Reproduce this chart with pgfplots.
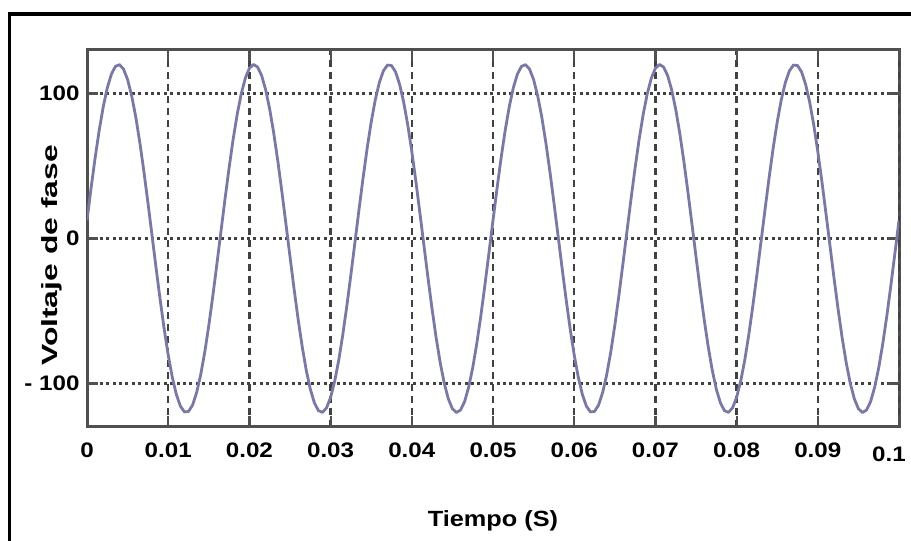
\documentclass[border=0pt]{standalone}
\usepackage{fontspec}
\setmainfont{Liberation Sans}[FakeStretch=1.15]
\usepackage{pgfplots}
\usepackage{pgfplotstable}
\pgfplotsset{compat=1.18}

\definecolor{wave}{RGB}{122,120,164}
\definecolor{boxc}{RGB}{80,80,80}
\definecolor{gridc}{RGB}{65,65,65}

% phase voltage, every 0.5 ms
\pgfplotstableread{
t v
0 12.5
0.0005 34.7
0.001 55.6
0.0015 74.5
0.002 90.8
0.0025 103.9
0.003 113.3
0.0035 118.7
0.004 119.9
0.0045 116.8
0.005 109.6
0.0055 98.5
0.006 84.0
0.0065 66.4
0.007 46.5
0.0075 24.9
0.008 2.5
0.0085 -20.0
0.009 -41.8
0.0095 -62.2
0.01 -80.3
0.0105 -95.6
0.011 -107.5
0.0115 -115.6
0.012 -119.6
0.0125 -119.3
0.013 -114.9
0.0135 -106.3
0.014 -94.0
0.0145 -78.4
0.015 -60.0
0.0155 -39.5
0.016 -17.5
0.0165 5.0
0.017 27.4
0.0175 48.8
0.018 68.5
0.0185 85.7
0.019 99.9
0.0195 110.6
0.02 117.4
0.0205 120.0
0.021 118.3
0.0215 112.5
0.022 102.6
0.0225 89.2
0.023 72.6
0.0235 53.4
0.024 32.3
0.0245 10.0
0.025 -12.5
0.0255 -34.7
0.026 -55.6
0.0265 -74.5
0.027 -90.8
0.0275 -103.9
0.028 -113.3
0.0285 -118.7
0.029 -119.9
0.0295 -116.8
0.03 -109.6
0.0305 -98.5
0.031 -84.0
0.0315 -66.4
0.032 -46.5
0.0325 -24.9
0.033 -2.5
0.0335 20.0
0.034 41.8
0.0345 62.2
0.035 80.3
0.0355 95.6
0.036 107.5
0.0365 115.6
0.037 119.6
0.0375 119.3
0.038 114.9
0.0385 106.3
0.039 94.0
0.0395 78.4
0.04 60.0
0.0405 39.5
0.041 17.5
0.0415 -5.0
0.042 -27.4
0.0425 -48.8
0.043 -68.5
0.0435 -85.7
0.044 -99.9
0.0445 -110.6
0.045 -117.4
0.0455 -120.0
0.046 -118.3
0.0465 -112.5
0.047 -102.6
0.0475 -89.2
0.048 -72.6
0.0485 -53.4
0.049 -32.3
0.0495 -10.0
0.05 12.5
0.0505 34.7
0.051 55.6
0.0515 74.5
0.052 90.8
0.0525 103.9
0.053 113.3
0.0535 118.7
0.054 119.9
0.0545 116.8
0.055 109.6
0.0555 98.5
0.056 84.0
0.0565 66.4
0.057 46.5
0.0575 24.9
0.058 2.5
0.0585 -20.0
0.059 -41.8
0.0595 -62.2
0.06 -80.3
0.0605 -95.6
0.061 -107.5
0.0615 -115.6
0.062 -119.6
0.0625 -119.3
0.063 -114.9
0.0635 -106.3
0.064 -94.0
0.0645 -78.4
0.065 -60.0
0.0655 -39.5
0.066 -17.5
0.0665 5.0
0.067 27.4
0.0675 48.8
0.068 68.5
0.0685 85.7
0.069 99.9
0.0695 110.6
0.07 117.4
0.0705 120.0
0.071 118.3
0.0715 112.5
0.072 102.6
0.0725 89.2
0.073 72.6
0.0735 53.4
0.074 32.3
0.0745 10.0
0.075 -12.5
0.0755 -34.7
0.076 -55.6
0.0765 -74.5
0.077 -90.8
0.0775 -103.9
0.078 -113.3
0.0785 -118.7
0.079 -119.9
0.0795 -116.8
0.08 -109.6
0.0805 -98.5
0.081 -84.0
0.0815 -66.4
0.082 -46.5
0.0825 -24.9
0.083 -2.5
0.0835 20.0
0.084 41.8
0.0845 62.2
0.085 80.3
0.0855 95.6
0.086 107.5
0.0865 115.6
0.087 119.6
0.0875 119.3
0.088 114.9
0.0885 106.3
0.089 94.0
0.0895 78.4
0.09 60.0
0.0905 39.5
0.091 17.5
0.0915 -5.0
0.092 -27.4
0.0925 -48.8
0.093 -68.5
0.0935 -85.7
0.094 -99.9
0.0945 -110.6
0.095 -117.4
0.0955 -120.0
0.096 -118.3
0.0965 -112.5
0.097 -102.6
0.0975 -89.2
0.098 -72.6
0.0985 -53.4
0.099 -32.3
0.0995 -10.0
0.1 12.5
}\fase

\begin{document}
\begin{tikzpicture}[x=1pt,y=1pt]
    \path[use as bounding box] (0,0) rectangle (911,541);
    \fill[white] (0,0) rectangle (911,541);
    \draw[line width=3.5pt] (9.5,0) -- (9.5,527) -- (911,527);

    \begin{axis}[
            at={(87pt,114pt)}, anchor=south west,
            width=812pt, height=377pt, scale only axis,
            xmin=0, xmax=0.1,
            ymin=-130, ymax=130,
            xtick={0,0.01,0.02,0.03,0.04,0.05,0.06,0.07,0.08,0.09},
            xticklabels={0,0.01,0.02,0.03,0.04,0.05,0.06,0.07,0.08,0.09},
            extra x ticks={0.1},
            extra x tick labels={0.1},
            extra x tick style={xticklabel style={xshift=-10pt, yshift=-4pt}},
            scaled x ticks=false,
            ytick={-100,0,100},
            yticklabels={- 100,0,100},
            axis line style={boxc, line width=3pt},
            tick style={boxc, line width=2.2pt},
            major tick length=11pt,
            grid=major,
            x grid style={gridc, line width=2.4pt, dash pattern=on 7pt off 5pt},
            y grid style={gridc, line width=3pt, dash pattern=on 3pt off 3.4pt},
            tick label style={font=\fontsize{21}{25}\selectfont\bfseries},
            xticklabel style={anchor=center, yshift=-23pt},
            yticklabel style={xshift=-4pt},
            xlabel={Tiempo (S)},
            ylabel={\scalebox{1.26}[1]{Voltaje de fase}},
            label style={font=\fontsize{22}{26}\selectfont\bfseries},
            xlabel style={at={(axis description cs:0.5,-0.249)}, anchor=center},
            ylabel style={at={(axis description cs:-0.043,0.455)}, anchor=center},
        ]

        \addplot[color=wave, line width=2.8pt, line join=round] table[x=t, y=v] {\fase};

    \end{axis}
\end{tikzpicture}
\end{document}
